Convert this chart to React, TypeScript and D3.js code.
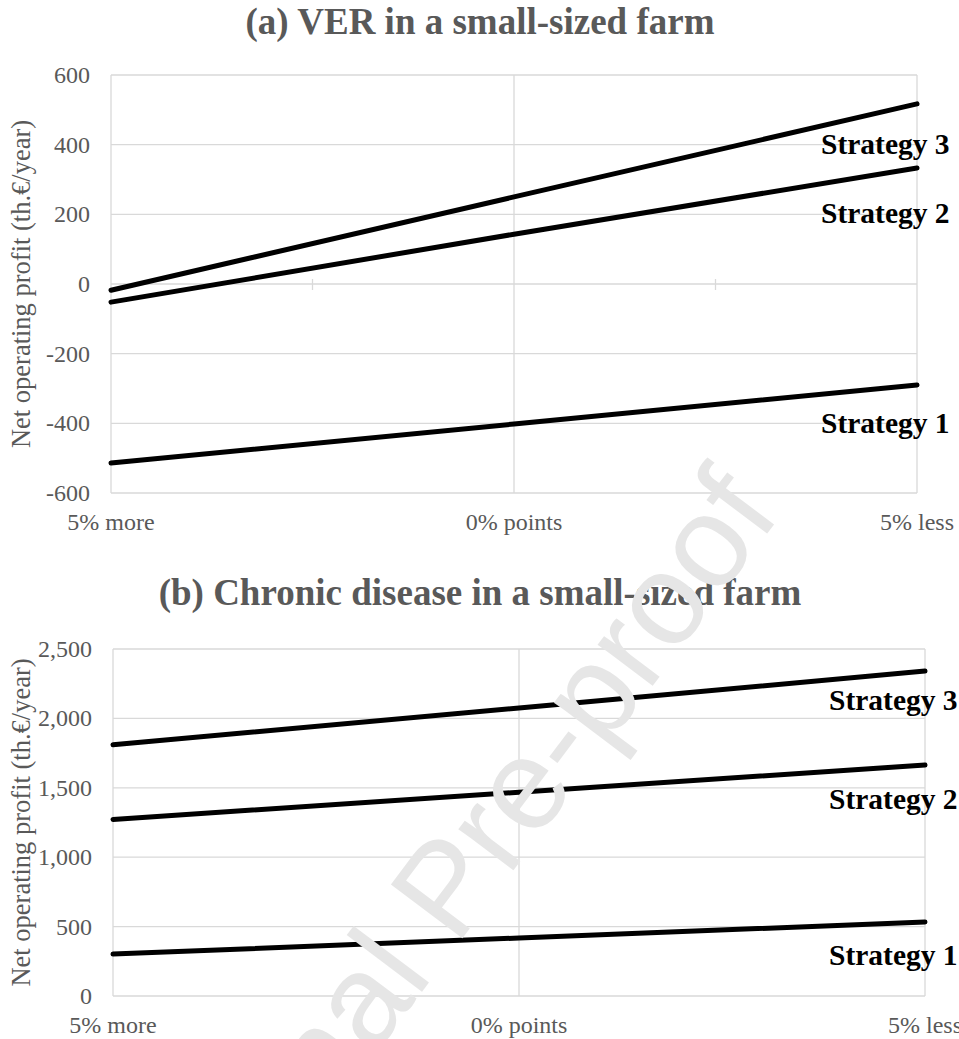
import React, { useRef, useEffect } from "react";
import * as d3 from "d3";

// categories on the x axis (same for both panels)
const categories = ["5% more", "0% points", "5% less"];
const strategyNames = ["Strategy 1", "Strategy 2", "Strategy 3"];

// (a) VER in a small-sized farm
const verStrategy1 = [-514, -402, -290];
const verStrategy2 = [-52, 143, 333];
const verStrategy3 = [-18, 250, 517];
const verTicks = [-600, -400, -200, 0, 200, 400, 600];

// (b) Chronic disease in a small-sized farm
const chronicStrategy1 = [302, 418, 533];
const chronicStrategy2 = [1272, 1468, 1664];
const chronicStrategy3 = [1810, 2075, 2341];
const chronicTicks = [0, 500, 1000, 1500, 2000, 2500];

const TEXT_GRAY = "#595959";
const GRID = "#d9d9d9";
const SERIF = "'Liberation Serif', 'Times New Roman', serif";

interface PanelProps {
    title: string;
    series: number[][];
    ticks: number[];
    left: number;
    right: number;
    top: number;
    bottom: number;
    titleY: number;
    labelDy: number[];
    zeroTicks?: boolean;
}

const Panel: React.FC<PanelProps> = ({
    title,
    series,
    ticks,
    left,
    right,
    top,
    bottom,
    titleY,
    labelDy,
    zeroTicks = false,
}) => {
    const ref = useRef<SVGGElement | null>(null);

    useEffect(() => {
        if (!ref.current) return;
        const g = d3.select(ref.current);
        g.selectAll("*").remove();

        const x = d3.scalePoint<string>().domain(categories).range([left, right]);
        const y = d3
            .scaleLinear()
            .domain([ticks[0], ticks[ticks.length - 1]])
            .range([bottom, top]);
        // Excel style: plain hyphen for negatives
        const fmt = (v: number) => d3.format(",")(v).replace("\u2212", "-");

        // title
        g.append("text")
            .attr("x", 480)
            .attr("y", titleY)
            .attr("text-anchor", "middle")
            .attr("font-family", SERIF)
            .attr("font-weight", "bold")
            .attr("font-size", 37)
            .attr("fill", TEXT_GRAY)
            .text(title);

        // horizontal gridlines
        g.selectAll(".hgrid")
            .data(ticks)
            .enter()
            .append("line")
            .attr("x1", left)
            .attr("x2", right)
            .attr("y1", (d) => y(d))
            .attr("y2", (d) => y(d))
            .attr("stroke", GRID)
            .attr("stroke-width", 1.3);

        // vertical gridlines at categories
        g.selectAll(".vgrid")
            .data(categories)
            .enter()
            .append("line")
            .attr("x1", (d) => x(d)!)
            .attr("x2", (d) => x(d)!)
            .attr("y1", top)
            .attr("y2", bottom)
            .attr("stroke", GRID)
            .attr("stroke-width", 1.3);

        // small tick marks on the zero line between categories
        if (zeroTicks) {
            const step = x.step();
            g.selectAll(".ztick")
                .data(categories.slice(0, -1))
                .enter()
                .append("line")
                .attr("x1", (d) => x(d)! + step / 2)
                .attr("x2", (d) => x(d)! + step / 2)
                .attr("y1", y(0) - 5)
                .attr("y2", y(0) + 6)
                .attr("stroke", GRID)
                .attr("stroke-width", 1.3);
        }

        // y tick labels
        g.selectAll(".ylab")
            .data(ticks)
            .enter()
            .append("text")
            .attr("x", left - 21)
            .attr("y", (d) => y(d))
            .attr("dy", "0.33em")
            .attr("text-anchor", "end")
            .attr("font-family", SERIF)
            .attr("font-size", 24)
            .attr("fill", TEXT_GRAY)
            .text((d) => fmt(d));

        // category labels
        g.selectAll(".xlab")
            .data(categories)
            .enter()
            .append("text")
            .attr("x", (d) => x(d)!)
            .attr("y", bottom + 37)
            .attr("text-anchor", "middle")
            .attr("font-family", SERIF)
            .attr("font-size", 24)
            .attr("fill", TEXT_GRAY)
            .text((d) => d);

        // y axis title
        g.append("text")
            .attr("transform", `translate(30, ${(top + bottom) / 2}) rotate(-90)`)
            .attr("text-anchor", "middle")
            .attr("font-family", SERIF)
            .attr("font-size", 26.5)
            .attr("fill", TEXT_GRAY)
            .text("Net operating profit (th.€/year)");

        // lines
        const line = d3
            .line<number>()
            .x((_, i) => x(categories[i])!)
            .y((d) => y(d));

        g.selectAll(".series")
            .data(series)
            .enter()
            .append("path")
            .attr("d", (d) => line(d))
            .attr("fill", "none")
            .attr("stroke", "#000")
            .attr("stroke-width", 5)
            .attr("stroke-linecap", "round");

        // data labels at the last point
        g.selectAll(".slab")
            .data(series)
            .enter()
            .append("text")
            .attr("x", right - 96)
            .attr("y", (d, i) => y(d[d.length - 1]) + labelDy[i])
            .attr("font-family", SERIF)
            .attr("font-weight", "bold")
            .attr("font-size", 29.5)
            .attr("fill", "#000")
            .text((_, i) => strategyNames[i]);
    }, [title, series, ticks, left, right, top, bottom, titleY, labelDy, zeroTicks]);

    return <g ref={ref} />;
};

export default function App() {
    return (
        <div style={{ position: "absolute", left: 0, top: 0 }}>
            <svg width={959} height={1039} style={{ display: "block", background: "#fff" }}>
                <Panel
                    title="(a) VER in a small-sized farm"
                    series={[verStrategy1, verStrategy2, verStrategy3]}
                    ticks={verTicks}
                    left={111}
                    right={917}
                    top={75}
                    bottom={493}
                    titleY={34}
                    labelDy={[48, 55, 50]}
                    zeroTicks
                />
                <Panel
                    title="(b) Chronic disease in a small-sized farm"
                    series={[chronicStrategy1, chronicStrategy2, chronicStrategy3]}
                    ticks={chronicTicks}
                    left={113}
                    right={925}
                    top={649}
                    bottom={996}
                    titleY={605}
                    labelDy={[43, 44, 39]}
                />
                <text
                    transform="translate(782, 514) rotate(-53)"
                    textAnchor="end"
                    fontFamily="'Liberation Sans', Arial, sans-serif"
                    fontSize={130}
                    fill="#e6e6e6"
                >
                    Journal Pre-proof
                </text>
            </svg>
        </div>
    );
}
